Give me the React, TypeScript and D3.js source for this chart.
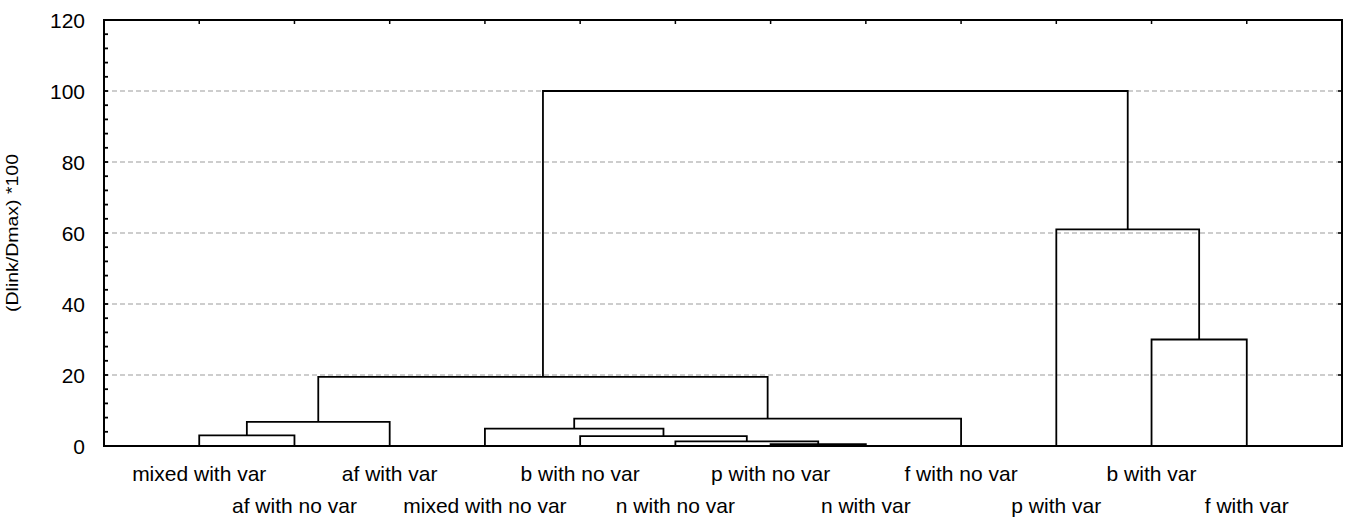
import React, { useEffect, useRef } from "react";
import * as d3 from "d3";

// leaf order along the x axis
const leafNames = [
  "mixed with var",
  "af with no var",
  "af with var",
  "mixed with no var",
  "b with no var",
  "n with no var",
  "p with no var",
  "n with var",
  "f with no var",
  "p with var",
  "b with var",
  "f with var",
];

// linkage steps: ids 0-11 are leaves, each merge gets id 12, 13, ...
const mergeLeft = [6, 5, 4, 0, 3, 15, 16, 17, 10, 9, 19];
const mergeRight = [7, 12, 13, 1, 14, 2, 8, 18, 11, 20, 21];
const mergeHeight = [0.5, 1.3, 2.8, 3.0, 4.9, 6.8, 7.7, 19.5, 30, 61, 100];

const yTicks = [0, 20, 40, 60, 80, 100, 120];
const gridValues = [20, 40, 60, 80, 100];
const yMinorStep = 4;

const W = 1351;
const H = 523;
const margin = { top: 20, right: 9, bottom: 77, left: 104 };

const App = () => {
  const ref = useRef<SVGSVGElement>(null);

  useEffect(() => {
    const svg = d3.select(ref.current);
    svg.selectAll("*").remove();

    const x0 = margin.left;
    const x1 = W - margin.right;
    const y0 = margin.top;
    const y1 = H - margin.bottom;

    const xScale = d3.scalePoint<number>()
      .domain(d3.range(leafNames.length))
      .range([x0, x1])
      .padding(1);

    const yScale = d3.scaleLinear().domain([0, 120]).range([y1, y0]);

    // grid lines
    svg.append("g")
      .selectAll("line")
      .data(gridValues)
      .enter().append("line")
      .attr("x1", x0)
      .attr("x2", x1)
      .attr("y1", (d) => yScale(d))
      .attr("y2", (d) => yScale(d))
      .attr("stroke", "#bdbdbd")
      .attr("stroke-width", 1.5)
      .attr("stroke-dasharray", "5,3");

    // node positions
    const nodeX: number[] = leafNames.map((_, i) => xScale(i) as number);
    const nodeH: number[] = leafNames.map(() => 0);
    const links: [number, number, number, number, number][] = [];
    mergeLeft.forEach((l, i) => {
      const r = mergeRight[i];
      const h = mergeHeight[i];
      links.push([nodeX[l], nodeH[l], nodeX[r], nodeH[r], h]);
      nodeX.push((nodeX[l] + nodeX[r]) / 2);
      nodeH.push(h);
    });

    svg.append("g")
      .selectAll("path")
      .data(links)
      .enter().append("path")
      .attr("d", (d) => {
        const [xa, ha, xb, hb, h] = d;
        return `M${xa},${yScale(ha)}V${yScale(h)}H${xb}V${yScale(hb)}`;
      })
      .attr("fill", "none")
      .attr("stroke", "#000")
      .attr("stroke-width", 1.8);

    // frame
    svg.append("rect")
      .attr("x", x0)
      .attr("y", y0)
      .attr("width", x1 - x0)
      .attr("height", y1 - y0)
      .attr("fill", "none")
      .attr("stroke", "#000")
      .attr("stroke-width", 2);

    // left axis, ticks pointing inward
    const minor = d3.range(0, 120 + 0.001, yMinorStep);
    svg.append("g")
      .selectAll("line")
      .data(minor)
      .enter().append("line")
      .attr("x1", x0)
      .attr("x2", x0 + 4)
      .attr("y1", (d) => yScale(d))
      .attr("y2", (d) => yScale(d))
      .attr("stroke", "#000")
      .attr("stroke-width", 1.8);

    // right side ticks
    svg.append("g")
      .selectAll("line")
      .data(yTicks)
      .enter().append("line")
      .attr("x1", x1)
      .attr("x2", x1 - 4)
      .attr("y1", (d) => yScale(d))
      .attr("y2", (d) => yScale(d))
      .attr("stroke", "#000")
      .attr("stroke-width", 1.5);

    // top ticks at leaves
    svg.append("g")
      .selectAll("line")
      .data(leafNames.map((_, i) => i))
      .enter().append("line")
      .attr("x1", (d) => xScale(d) as number)
      .attr("x2", (d) => xScale(d) as number)
      .attr("y1", y0)
      .attr("y2", y0 + 4)
      .attr("stroke", "#000")
      .attr("stroke-width", 1.5);

    const font = "'Liberation Sans', Arial, sans-serif";

    svg.append("g")
      .selectAll("text")
      .data(yTicks)
      .enter().append("text")
      .attr("x", x0 - 19)
      .attr("y", (d) => yScale(d))
      .attr("dy", "0.36em")
      .attr("text-anchor", "end")
      .attr("font-family", font)
      .attr("font-size", 21)
      .text((d) => d);

    svg.append("g")
      .selectAll("text")
      .data(leafNames)
      .enter().append("text")
      .attr("x", (_, i) => xScale(i) as number)
      .attr("y", (_, i) => (i % 2 === 0 ? 481 : 513))
      .attr("text-anchor", "middle")
      .attr("font-family", font)
      .attr("font-size", 21)
      .text((d) => d);

    svg.append("text")
      .attr("transform", `translate(18, ${(y0 + y1) / 2}) rotate(-90)`)
      .attr("text-anchor", "middle")
      .attr("font-family", font)
      .attr("font-size", 16)
      .attr("textLength", 158)
      .attr("lengthAdjust", "spacingAndGlyphs")
      .text("(Dlink/Dmax) *100");
  }, []);

  return (
    <svg
      ref={ref}
      width={W}
      height={H}
      style={{ position: "absolute", left: 0, top: 0, background: "#fff" }}
    ></svg>
  );
};

export default App;
